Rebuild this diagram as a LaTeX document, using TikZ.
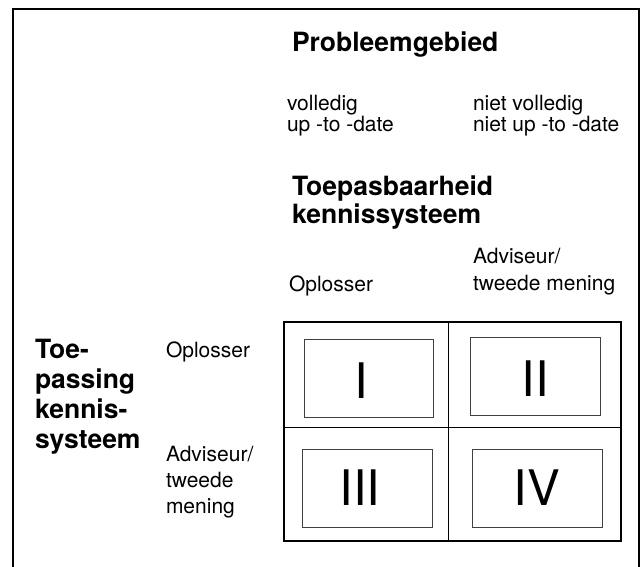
\documentclass[tikz,border=0pt]{standalone}
\usepackage{fontspec}
\setmainfont{TeX Gyre Heros}
\newcommand\stacked[1]{\begin{tabular}[t]{@{}l@{}}#1\end{tabular}}
\begin{document}
\begin{tikzpicture}[x=1pt, y=-1pt,
  txt/.style={anchor=base west, inner sep=0pt, outer sep=0pt},
  heading/.style={txt, font=\fontsize{26.5}{28}\selectfont\bfseries},
  plain/.style={txt, font=\fontsize{21}{20}\selectfont},
  frame/.style={line width=2pt, line cap=rect},
  gridline/.style={line width=1.5pt},
  divider/.style={line width=0.9pt},
  cellbox/.style={draw=black!75, line width=0.8pt, minimum width=130pt,
    minimum height=78pt, inner sep=0pt},
  numeral/.style={inner sep=0pt, font=\fontsize{49}{50}\selectfont}]
\useasboundingbox (0,0) rectangle (642,566);

% outer frame, open at the bottom
\draw[frame] (13,566) -- (13,9) -- (639,9) -- (639,566);

% column headings
\node[heading] (prob) at (292,51) {Probleemgebied};
\node[plain] (compl) at (287,110) {\stacked{volledig\\up -to -date}};
\node[plain] (incompl) at (473,110) {\stacked{niet volledig\\niet up -to -date}};
\node[heading, font=\fontsize{26.5}{28}\selectfont\bfseries] (toepb) at (292,195)
  {\stacked{Toepasbaarheid\\kennissysteem}};
\node[plain] (colA) at (289,291) {Oplosser};
\node[plain, font=\fontsize{21}{27}\selectfont] (colB) at (473,263)
  {\stacked{Adviseur/\\tweede mening}};

% row headings
\node[heading, font=\fontsize{26.5}{30}\selectfont\bfseries] (toep) at (35,358)
  {\stacked{Toe-\\passing\\kennis-\\systeem}};
\node[plain] (rowA) at (166,357) {Oplosser};
\node[plain, font=\fontsize{21}{26}\selectfont] (rowB) at (166,461)
  {\stacked{Adviseur/\\tweede\\mening}};

% the 2x2 matrix
\draw[gridline] (284,322) rectangle (621,541);
\draw[divider] (448,322) -- (448,541);
\draw[divider] (284,427) -- (621,427);

\node[cellbox, minimum width=129pt] (boxI) at (368.5,378) {};
\node[cellbox] (boxII) at (535,376) {};
\node[cellbox] (boxIII) at (367,488) {};
\node[cellbox] (boxIV) at (537,488) {};

\node[numeral] (nI) at ([xshift=-7pt, yshift=-2.5pt]boxI.center) {I};
\node[numeral] (nII) at ([yshift=-3pt]boxII.center) {II};
\node[numeral] (nIII) at ([xshift=-7pt]boxIII.center) {III};
\node[numeral] (nIV) at (boxIV.center) {IV};
\end{tikzpicture}
\end{document}
